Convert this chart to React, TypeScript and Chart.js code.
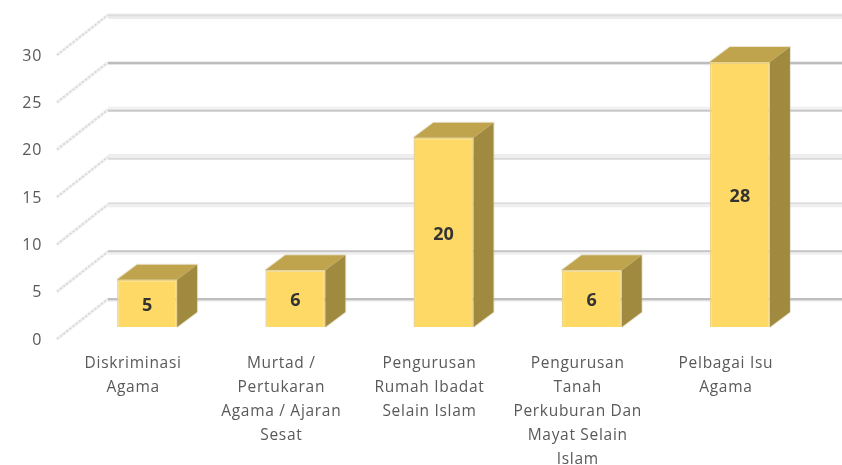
import React, { useEffect, useRef } from "react";
import { Chart, registerables } from "chart.js";

Chart.register(...registerables);

const categories: string[][] = [
  ["Diskriminasi", "Agama"],
  ["Murtad /", "Pertukaran", "Agama / Ajaran", "Sesat"],
  ["Pengurusan", "Rumah Ibadat", "Selain Islam"],
  ["Pengurusan", "Tanah", "Perkuburan Dan", "Mayat Selain", "Islam"],
  ["Pelbagai Isu", "Agama"],
];
const seriesValues: number[] = [5, 6, 20, 6, 28];
const yMin = 0;
const yMax = 30;
const yStep = 5;

const FONT = "'Open Sans', sans-serif";
const BAR_SHIFT = { x: 14, y: -13 };
const BAR_DEPTH = { x: 20, y: -15 };
const WALL = { x: 51, y: -41 };

// Look of each back-wall gridline: core tone, its offset, and the pale band around it.
const gridLook: Record<number, { core: string; h: number; off: number; band: string; bandOff: number; bandH: number }> = {
  0: { core: "#bebebe", h: 2.4, off: -1, band: "#f4f4f4", bandOff: 1, bandH: 2 },
  5: { core: "#c6c6c6", h: 2, off: -1.5, band: "#efefef", bandOff: 0, bandH: 3 },
  10: { core: "#dcdcdc", h: 1.6, off: -2, band: "#efefef", bandOff: -1, bandH: 4 },
  15: { core: "#d8d8d8", h: 1.5, off: 1, band: "#eeeeee", bandOff: -3, bandH: 6 },
  20: { core: "#c8c8c8", h: 2, off: 0, band: "#f1f1f1", bandOff: -3, bandH: 5 },
  25: { core: "#bdbdbd", h: 2.6, off: -0.6, band: "#f6f6f6", bandOff: 1, bandH: 2 },
  30: { core: "#dcdcdc", h: 1.6, off: -0.4, band: "#ececec", bandOff: -1.5, bandH: 5.5 },
};

const wallPlugin = {
  id: "wall3d",
  beforeDraw(chart: any) {
    chart.ctx.letterSpacing = "0.7px";
  },
  beforeDatasetsDraw(chart: any) {
    const { ctx, scales, chartArea, width } = chart;
    const y = scales.y;
    ctx.save();
    for (const t of y.ticks) {
      const py = y.getPixelForValue(t.value) - 1;
      const sx = chartArea.left - 2;
      ctx.beginPath();
      ctx.moveTo(sx, py);
      ctx.lineTo(sx + WALL.x, py + WALL.y + 1);
      ctx.lineWidth = 3.4;
      ctx.strokeStyle = "#f1f1f1";
      ctx.stroke();
      ctx.setLineDash([2, 2]);
      ctx.lineWidth = 1.6;
      ctx.strokeStyle = "#d6d6d6";
      ctx.stroke();
      ctx.setLineDash([]);
      const wy = py + WALL.y + 1;
      const look = gridLook[t.value];
      ctx.fillStyle = look.band;
      ctx.fillRect(sx + WALL.x, wy + look.bandOff, width, look.bandH);
      ctx.fillStyle = look.core;
      ctx.fillRect(sx + WALL.x, wy + look.off, width, look.h);
    }
    ctx.restore();
    ctx.save();
    ctx.translate(BAR_SHIFT.x, BAR_SHIFT.y);
  },
  afterDatasetsDraw(chart: any) {
    const { ctx } = chart;
    const meta = chart.getDatasetMeta(0);
    meta.data.forEach((el: any, i: number) => {
      const l = el.x - el.width / 2;
      const r = el.x + el.width / 2;
      const top = el.y;
      const base = el.base;
      // pale halo around top and side faces
      ctx.beginPath();
      ctx.moveTo(l, top);
      ctx.lineTo(l + BAR_DEPTH.x, top + BAR_DEPTH.y);
      ctx.lineTo(r + BAR_DEPTH.x, top + BAR_DEPTH.y);
      ctx.lineTo(r + BAR_DEPTH.x, base + BAR_DEPTH.y);
      ctx.lineTo(r, base);
      ctx.strokeStyle = "rgba(205,190,140,0.4)";
      ctx.lineWidth = 2;
      ctx.stroke();
      // top face
      ctx.beginPath();
      ctx.moveTo(l, top);
      ctx.lineTo(l + BAR_DEPTH.x, top + BAR_DEPTH.y);
      ctx.lineTo(r + BAR_DEPTH.x, top + BAR_DEPTH.y);
      ctx.lineTo(r, top);
      ctx.closePath();
      ctx.fillStyle = "#BFA34D";
      ctx.fill();
      // side face
      ctx.beginPath();
      ctx.moveTo(r, top);
      ctx.lineTo(r + BAR_DEPTH.x, top + BAR_DEPTH.y);
      ctx.lineTo(r + BAR_DEPTH.x, base + BAR_DEPTH.y);
      ctx.lineTo(r, base);
      ctx.closePath();
      ctx.fillStyle = "#A08A40";
      ctx.fill();
      // value label
      ctx.letterSpacing = "0px";
      ctx.fillStyle = "#333333";
      ctx.font = `bold 18px ${FONT}`;
      ctx.textAlign = "center";
      ctx.textBaseline = "middle";
      ctx.fillText(String(seriesValues[i]), el.x, (top + base) / 2 + 2.5);
    });
    ctx.restore();
  },
};

export default function App() {
  const ref = useRef<HTMLCanvasElement>(null);
  useEffect(() => {
    const chart = new Chart(ref.current as HTMLCanvasElement, {
      type: "bar",
      data: {
        labels: categories as any,
        datasets: [
          {
            data: seriesValues,
            backgroundColor: "#FFD966",
            borderColor: "#EBD48A",
            borderWidth: 1.5,
            categoryPercentage: 1,
            barPercentage: 0.405,
          },
        ],
      },
      options: {
        responsive: false,
        animation: false,
        layout: { padding: { top: 56, right: 42, left: 0, bottom: 0 } },
        plugins: { legend: { display: false }, tooltip: { enabled: false } },
        scales: {
          x: {
            grid: { display: false },
            border: { display: false },
            afterFit: (s: any) => {
              s.height = 125;
            },
            ticks: {
              autoSkip: false,
              maxRotation: 0,
              minRotation: 0,
              padding: 4,
              color: "#595959",
              font: { family: FONT, size: 15.5, lineHeight: 24 / 15.5 },
            },
          },
          y: {
            min: yMin,
            max: yMax,
            grid: { display: false, drawTicks: false },
            border: { display: false },
            afterFit: (s: any) => {
              s.width = 59;
            },
            ticks: {
              stepSize: yStep,
              padding: 17,
              color: "#595959",
              font: { family: FONT, size: 16 },
            },
          },
        },
      },
      plugins: [wallPlugin],
    } as any);
    return () => chart.destroy();
  }, []);
  return (
    <div style={{ position: "fixed", left: 0, top: 0, width: 842, height: 465, background: "#fff" }}>
      <canvas ref={ref} width={842} height={465} style={{ display: "block" }} />
    </div>
  );
}
